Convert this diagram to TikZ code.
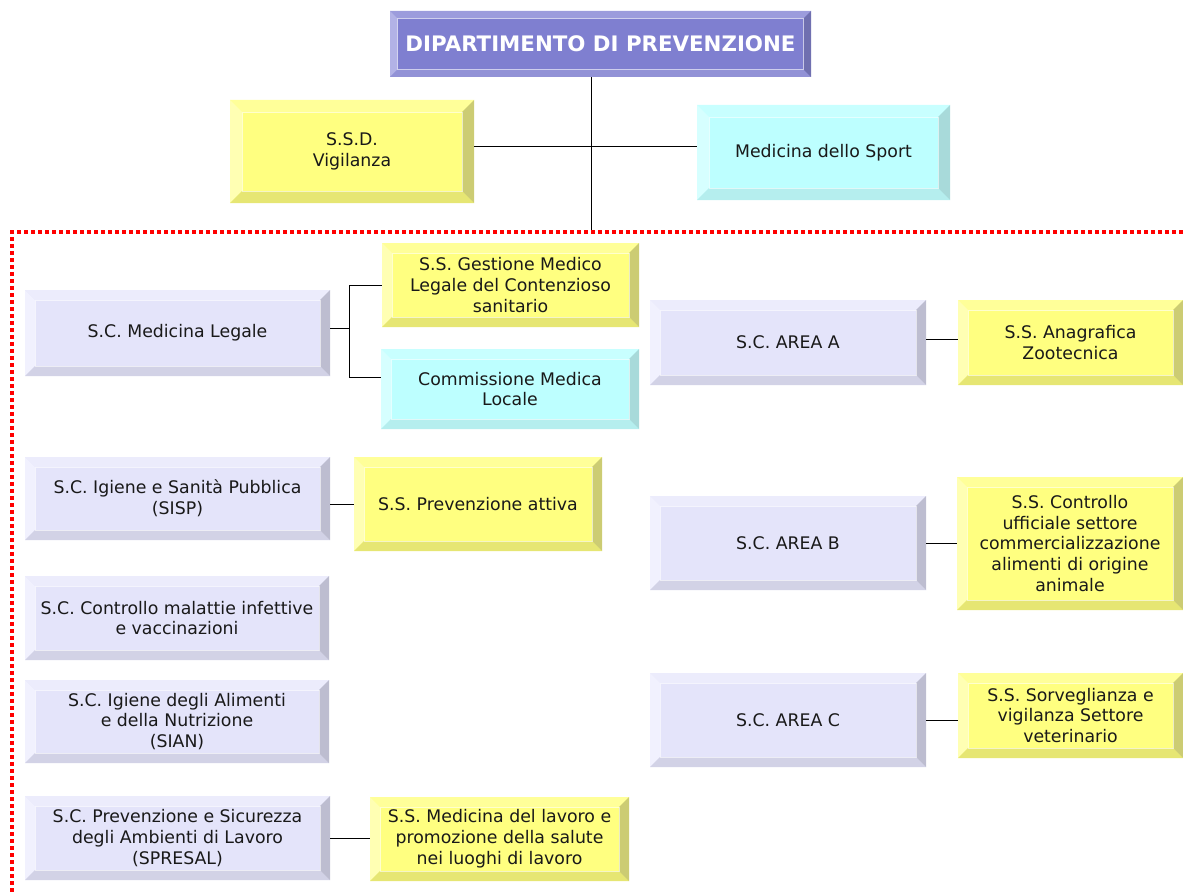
\documentclass[tikz,border=0pt]{standalone}
\usepackage{fontspec}
\setmainfont{DejaVu Sans}
\usetikzlibrary{calc}

\newcommand{\px}{0.75pt}
\def\bw{7.5pt}

\definecolor{lavface}{HTML}{E4E4FA}
\definecolor{lavtop}{HTML}{ECECFC}
\definecolor{lavleft}{HTML}{F1F1FE}
\definecolor{lavbot}{HTML}{D2D2E6}
\definecolor{lavright}{HTML}{BDBDD0}
\definecolor{yelface}{HTML}{FFFF80}
\definecolor{yeltop}{HTML}{FFFF99}
\definecolor{yelleft}{HTML}{FFFFB3}
\definecolor{yelbot}{HTML}{E6E673}
\definecolor{yelright}{HTML}{CCCC73}
\definecolor{cyaface}{HTML}{BDFFFF}
\definecolor{cyatop}{HTML}{C8FFFF}
\definecolor{cyaleft}{HTML}{D6FFFF}
\definecolor{cyabot}{HTML}{B5EEEE}
\definecolor{cyaright}{HTML}{A8DADA}
\definecolor{purface}{HTML}{7F7FD0}
\definecolor{purtop}{HTML}{9C9CDC}
\definecolor{purleft}{HTML}{B2B2E6}
\definecolor{purbot}{HTML}{9292D6}
\definecolor{purright}{HTML}{7070B0}
\definecolor{reddot}{HTML}{FF0000}

\tikzset{
	bevelw/.code={\def\bw{#1}},
	bevel/.style n args={4}{path picture={
		\fill[#1] (path picture bounding box.north west) -- (path picture bounding box.north east)
			-- ([xshift=-\bw,yshift=-\bw]path picture bounding box.north east)
			-- ([xshift=\bw,yshift=-\bw]path picture bounding box.north west) -- cycle;
		\fill[#2] (path picture bounding box.north west) -- (path picture bounding box.south west)
			-- ([xshift=\bw,yshift=\bw]path picture bounding box.south west)
			-- ([xshift=\bw,yshift=-\bw]path picture bounding box.north west) -- cycle;
		\fill[#3] (path picture bounding box.south west) -- (path picture bounding box.south east)
			-- ([xshift=-\bw,yshift=\bw]path picture bounding box.south east)
			-- ([xshift=\bw,yshift=\bw]path picture bounding box.south west) -- cycle;
		\fill[#4] (path picture bounding box.north east) -- (path picture bounding box.south east)
			-- ([xshift=-\bw,yshift=\bw]path picture bounding box.south east)
			-- ([xshift=-\bw,yshift=-\bw]path picture bounding box.north east) -- cycle;
		\draw[white, opacity=0.6, line width=0.6pt]
			([xshift=\bw,yshift=-\bw]path picture bounding box.north west)
			rectangle ([xshift=-\bw,yshift=\bw]path picture bounding box.south east);
	}},
	sz/.style 2 args={minimum width=#1*\px, minimum height=#2*\px},
	box/.style={rectangle, inner sep=0pt, align=center, text=black!90,
		font=\fontsize{13pt}{15.6pt}\selectfont},
	lav/.style={box, fill=lavface, bevel={lavtop}{lavleft}{lavbot}{lavright}},
	yel/.style={box, fill=yelface, bevel={yeltop}{yelleft}{yelbot}{yelright}},
	cya/.style={box, fill=cyaface, bevel={cyatop}{cyaleft}{cyabot}{cyaright}},
	pur/.style={box, fill=purface, bevel={purtop}{purleft}{purbot}{purright}, bevelw=5.5pt,
		text=white, font=\fontsize{16pt}{18pt}\selectfont\bfseries},
	link/.style={draw=black, line width=0.75pt},
	reddots/.style={draw=reddot, line width=2.8pt, dash pattern=on 2.8pt off 2.45pt},
}

\begin{document}
\begin{tikzpicture}[x=0.75pt, y=-0.75pt]
	\useasboundingbox (0,0) rectangle (1183,892);

	% top of the chart
	\node[pur, sz={421}{66}] (dip) at (600.5,44) {DIPARTIMENTO DI PREVENZIONE};
	\node[yel, sz={244}{103}, bevelw=9pt] (ssd) at (352,151.5) {S.S.D.\\Vigilanza};
	\node[cya, sz={253}{95}, bevelw=9pt] (sport) at (823.5,152.5) {Medicina dello Sport};

	\coordinate (trunk) at (591,232);
	\coordinate (frameTL) at (12,232);
	\coordinate (frameTR) at (1183,232);
	\coordinate (frameBL) at (12,892);

	% left column
	\node[lav, sz={305}{86}] (medleg) at (177.5,333) {S.C. Medicina Legale};
	\node[yel, sz={257}{84}] (gestione) at (510.5,285) {S.S. Gestione Medico\\Legale del Contenzioso\\sanitario};
	\node[cya, sz={258}{80}] (commissione) at (510,389) {Commissione Medica\\Locale};
	\node[lav, sz={305}{83}] (sisp) at (177.5,498.5) {S.C. Igiene e Sanità Pubblica\\(SISP)};
	\node[yel, sz={248}{94}] (prevatt) at (478,504) {S.S. Prevenzione attiva};
	\node[lav, sz={304}{84}] (malattie) at (177,618) {S.C. Controllo malattie infettive\\e vaccinazioni};
	\node[lav, sz={304}{83}] (sian) at (177,721.5) {S.C. Igiene degli Alimenti\\e della Nutrizione\\(SIAN)};
	\node[lav, sz={305}{84}] (spresal) at (177.5,838) {S.C. Prevenzione e Sicurezza\\degli Ambienti di Lavoro\\(SPRESAL)};
	\node[yel, sz={259}{84}] (medlav) at (499.5,839) {S.S. Medicina del lavoro e\\promozione della salute\\nei luoghi di lavoro};

	% right column
	\node[lav, sz={276}{85}] (areaA) at (788,342.5) {S.C. AREA A};
	\node[yel, sz={225}{85}] (anagrafica) at (1070.5,342.5) {S.S. Anagrafica\\Zootecnica};
	\node[lav, sz={276}{94}] (areaB) at (788,543) {S.C. AREA B};
	\node[yel, sz={226}{133}] (controllo) at (1070,543.5) {S.S. Controllo\\ufficiale settore\\commercializzazione\\alimenti di origine\\animale};
	\node[lav, sz={276}{94}] (areaC) at (788,720) {S.C. AREA C};
	\node[yel, sz={225}{85}] (sorveglianza) at (1070.5,715.5) {S.S. Sorveglianza e\\vigilanza Settore\\veterinario};

	% connectors
	\draw[link] (trunk |- dip.south) -- (trunk);
	\draw[link] ([yshift=4pt]ssd.east) -- ([yshift=4pt]ssd.east -| sport.west);
	\draw[reddots] (frameTR) -- (frameTL) -- (frameBL);

	\coordinate (commin) at ([yshift=9pt]commissione.west);
	\draw[link] ([yshift=3.5pt]medleg.east) -- ++(19,0) coordinate (fork);
	\draw[link] (fork |- gestione.west) -- (gestione.west);
	\draw[link] (fork |- gestione.west) -- (fork |- commin) -- (commin);
	\draw[link] (sisp.east |- prevatt.west) -- (prevatt.west);
	\draw[link] (spresal.east) -- (medlav.west |- spresal.east);
	\draw[link] ([yshift=2.5pt]areaA.east) -- ([yshift=2.5pt]areaA.east -| anagrafica.west);
	\draw[link] (areaB.east) -- (areaB.east -| controllo.west);
	\draw[link] (areaC.east) -- (areaC.east -| sorveglianza.west);
\end{tikzpicture}
\end{document}
